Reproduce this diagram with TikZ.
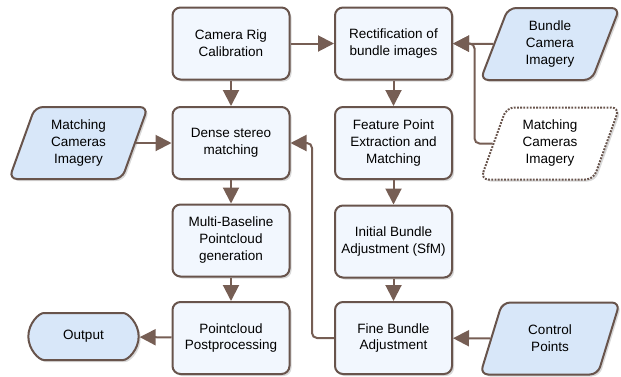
\documentclass[tikz,border=0pt]{standalone}
\usepackage{fontspec}
\setmainfont{Liberation Sans}
\usetikzlibrary{shapes.geometric,shapes.misc,shadows,arrows.meta}
\definecolor{edgec}{RGB}{104,84,76}
\definecolor{arrowc}{RGB}{118,94,84}
\definecolor{procfill}{RGB}{242,247,254}
\definecolor{datafill}{RGB}{216,231,249}
\tikzset{
  proc/.style={draw=edgec, line width=2pt, fill=procfill, rounded corners=8pt,
    minimum width=117pt, minimum height=72pt, align=center,
    drop shadow={opacity=0.3, shadow xshift=2pt, shadow yshift=-2pt},
    font=\fontsize{13.5}{17}\selectfont},
  data/.style={proc, trapezium, trapezium left angle=71, trapezium right angle=109,
    trapezium stretches=true, minimum width=140pt, fill=datafill},
  ghost/.style={data, fill=white, dash pattern=on 1.8pt off 1.4pt},
  term/.style={proc, rounded rectangle, minimum width=117pt, minimum height=47pt, fill=datafill},
  flow/.style={draw=arrowc, line width=2pt, rounded corners=5pt,
    -{Triangle[length=16pt,width=16pt]}}
}
\begin{document}
\begin{tikzpicture}[x=1pt,y=-1pt]
  \useasboundingbox (0,0) rectangle (621,376);

  % left column
  \node[proc] (cal)   at (231,43.5) {Camera Rig\\Calibration};
  \node[proc] (dense) at (231,143)  {Dense stereo\\matching};
  \node[proc] (multi) at (231,240.5){Multi-Baseline\\Pointcloud\\generation};
  \node[proc] (post)  at (231,338)  {Pointcloud\\Postprocessing};

  % right column
  \node[proc] (rect) at (393.5,43.5) {Rectification of\\bundle images};
  \node[proc] (feat) at (393.5,143)  {Feature Point\\Extraction and\\Matching};
  \node[proc] (init) at (393.5,241.5){Initial Bundle\\Adjustment (SfM)};
  \node[proc] (fine) at (393.5,338)  {Fine Bundle\\Adjustment};

  % inputs and output
  \node[data]  (mcamA)  at (78.5,143) {Matching\\Cameras\\Imagery};
  \node[data]  (bundle) at (550,44)   {Bundle\\Camera\\Imagery};
  \node[ghost] (mcamB)  at (550,143.5){Matching\\Cameras\\Imagery};
  \node[data]  (ctrl)   at (550,338.5){Control\\Points};
  \node[term]  (out)    at (83.5,336.5){Output};

  \draw[flow] (cal) -- (rect);
  \draw[flow] (cal) -- (dense);
  \draw[flow] (mcamA) -- (dense);
  \draw[flow] (dense) -- (multi);
  \draw[flow] (multi) -- (post);
  \draw[flow] (post) -- (out);
  \draw[flow] (rect) -- (feat);
  \draw[flow] (feat) -- (init);
  \draw[flow] (init) -- (fine);
  \draw[flow] (bundle) -- (rect);
  \draw[flow] (ctrl) -- (fine);
  \draw[flow] (mcamB.west) -- ++(-18,0) |- (rect.east);
  \draw[flow] (fine.west) -- ++(-22,0) |- (dense.east);
\end{tikzpicture}
\end{document}
